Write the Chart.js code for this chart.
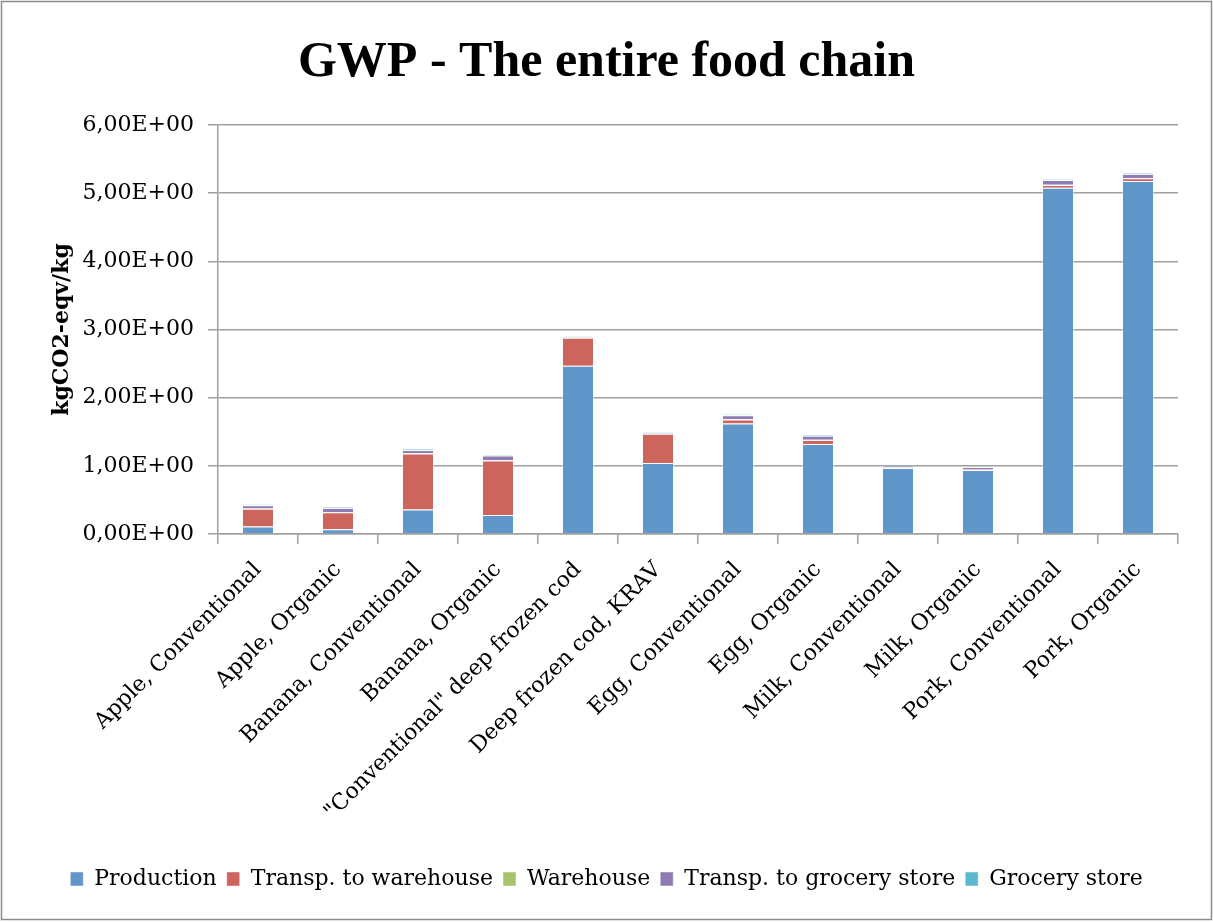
<!DOCTYPE html>
<html><head><meta charset="utf-8">
<script src="https://cdn.jsdelivr.net/npm/chart.js@4/dist/chart.umd.min.js"></script>
<style>html,body{margin:0;padding:0;background:#fff}#wrap{width:1213px;height:922px;position:relative}</style>
</head><body><div id="wrap"><canvas id="c" width="1213" height="922"></canvas></div>
<script>
const categories = ['Apple, Conventional','Apple, Organic','Banana, Conventional','Banana, Organic','"Conventional" deep frozen cod','Deep frozen cod, KRAV','Egg, Conventional','Egg, Organic','Milk, Conventional','Milk, Organic','Pork, Conventional','Pork, Organic'];
const production      = [0.11, 0.07, 0.36, 0.28, 2.47, 1.04, 1.62, 1.32, 0.97, 0.94, 5.08, 5.18];
const transpWarehouse = [0.26, 0.25, 0.82, 0.80, 0.41, 0.43, 0.06, 0.06, 0.005, 0.01, 0.04, 0.04];
const warehouse       = [0.003, 0.003, 0.003, 0.003, 0.003, 0.003, 0.003, 0.003, 0.003, 0.003, 0.003, 0.003];
const transpGrocery   = [0.05, 0.06, 0.05, 0.07, 0.005, 0.003, 0.06, 0.06, 0.025, 0.03, 0.07, 0.06];
const groceryStore    = [0.01, 0.01, 0.015, 0.01, 0.01, 0.015, 0.015, 0.01, 0.01, 0.01, 0.01, 0.01];
const yTicks = ['0,00E+00','1,00E+00','2,00E+00','3,00E+00','4,00E+00','5,00E+00','6,00E+00'];

const serif = '"DejaVu Serif", serif';
const borderPlugin = {id:'outerBorder', afterDraw(chart){const c=chart.ctx;c.save();c.strokeStyle='#8c8c8c';c.lineWidth=1.5;c.strokeRect(1.5,1.5,chart.width-3,chart.height-4);c.restore();}};
const mk = (label, data, color) => ({label, data, backgroundColor: color, borderColor: 'rgba(255,255,255,0.45)', borderWidth: 1, barPercentage: 0.4, categoryPercentage: 1.0});

new Chart(document.getElementById('c'), {
  type: 'bar',
  data: { labels: categories, datasets: [
    mk('Production', production, '#6096c9'),
    mk('Transp. to warehouse', transpWarehouse, '#cc655b'),
    mk('Warehouse', warehouse, '#a8c46a'),
    mk('Transp. to grocery store', transpGrocery, '#8f7bb4'),
    mk('Grocery store', groceryStore, '#5cb8cf')
  ]},
  plugins: [borderPlugin],
  options: {
    responsive: false, animation: false, devicePixelRatio: 1,
    layout: { padding: { left: 0, right: 0, top: 0, bottom: 22 } },
    plugins: {
      title: { display: true, text: 'GWP - The entire food chain', color: '#000', font: { family: '"Liberation Serif", serif', size: 50, weight: 'bold' }, padding: { top: 33, bottom: 32 } },
      legend: { position: 'bottom', labels: { color: '#000', font: { family: serif, size: 22 }, boxWidth: 13, boxHeight: 14, padding: 10 } },
      tooltip: { enabled: false }
    },
    scales: {
      x: {
        stacked: true,
        grid: { display: true, drawOnChartArea: false, drawTicks: true, tickLength: 10, color: '#a0a0a0', lineWidth: 1.5, offset: true },
        border: { display: true, color: '#a0a0a0', width: 1.5 },
        ticks: { color: '#000', font: { family: serif, size: 22 }, maxRotation: 45, minRotation: 45, padding: 13, autoSkip: false },
        afterFit(s) { s.height = 324; }
      },
      y: {
        stacked: true, min: 0, max: 6,
        grid: { color: '#a0a0a0', lineWidth: 1.5, tickLength: 10 },
        border: { display: true, color: '#a0a0a0', width: 1.5 },
        ticks: { stepSize: 1, color: '#000', font: { family: serif, size: 22 }, padding: 14, callback: (v) => yTicks[Math.round(v)] },
        title: { display: true, text: 'kgCO2-eqv/kg', color: '#000', font: { family: serif, size: 22, weight: 'bold' }, padding: { top: 49, bottom: 0 } },
        afterFit(s) { s.width = 218; }
      },
      yr: {
        position: 'right', display: true, grid: { display: false }, border: { display: false }, ticks: { display: false },
        afterFit(s) { s.width = 35; }
      }
    }
  }
});
</script></body></html>
